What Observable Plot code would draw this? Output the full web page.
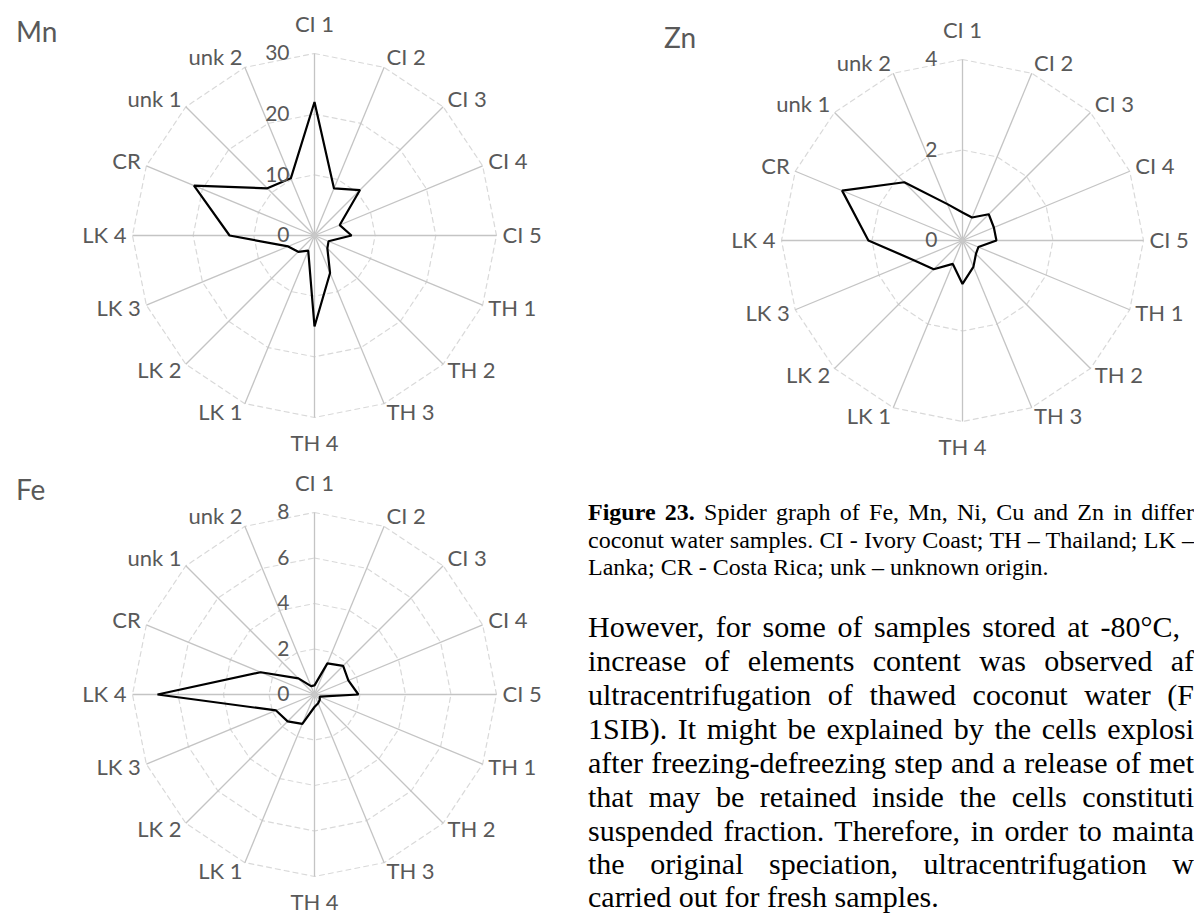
<!DOCTYPE html>
<html><head><meta charset="utf-8">
<script src="https://cdn.jsdelivr.net/npm/d3@7"></script>
<script src="https://cdn.jsdelivr.net/npm/@observablehq/plot@0.6"></script>
<style>
html,body{margin:0;padding:0;background:#fff;overflow:hidden;width:1194px;height:914px;}
#page{position:relative;width:1194px;height:914px;overflow:hidden;background:#fff;}
.chart{position:absolute;}
.title{position:absolute;font-family:Lato,sans-serif;font-size:28px;color:#595959;line-height:28px;white-space:nowrap;}
.cap,.par{position:absolute;left:588px;font-family:"Liberation Serif","Times New Roman",serif;color:#000;white-space:nowrap;text-align:justify;text-align-last:justify;}
.cap{font-size:24px;line-height:27.6px;width:606px;}
.par{font-size:30px;line-height:33.6px;width:606px;}
.left{text-align:left;text-align-last:left;}
</style></head>
<body><div id="page">
<div class="title" style="left:16px;top:17px">Mn</div>
<div class="title" style="left:664px;top:23px">Zn</div>
<div class="title" style="left:16px;top:475px">Fe</div>
<div id="mn" class="chart" style="left:0;top:0"></div>
<div id="zn" class="chart" style="left:590px;top:0"></div>
<div id="fe" class="chart" style="left:0;top:455px"></div>
<div class="cap" style="top:499px"><b>Figure 23.</b> Spider graph of Fe, Mn, Ni, Cu and Zn in differ</div>
<div class="cap" style="top:527px">coconut water samples. CI - Ivory Coast; TH – Thailand; LK –</div>
<div class="cap left" style="top:554px">Lanka; CR - Costa Rica; unk – unknown origin.</div>
<div class="par" style="top:610px;width:592px">However, for some of samples stored at -80°C,</div>
<div class="par" style="top:644px">increase of elements content was observed af</div>
<div class="par" style="top:678px">ultracentrifugation of thawed coconut water (F</div>
<div class="par" style="top:712px">1SIB). It might be explained by the cells explosi</div>
<div class="par" style="top:746px">after freezing-defreezing step and a release of met</div>
<div class="par" style="top:780px">that may be retained inside the cells constituti</div>
<div class="par" style="top:813.5px">suspended fraction. Therefore, in order to mainta</div>
<div class="par" style="top:847px">the original speciation, ultracentrifugation w</div>
<div class="par left" style="top:880px">carried out for fresh samples.</div>
</div>
<script>
const categories = ["CI 1","CI 2","CI 3","CI 4","CI 5","TH 1","TH 2","TH 3","TH 4","LK 1","LK 2","LK 3","LK 4","CR","unk 1","unk 2"];
const mnValues = [22, 8.4, 10.6, 4.5, 6.1, 2.5, 3.0, 6.7, 15, 2.7, 3.8, 4.7, 14, 21.5, 11, 10.2];
const znValues = [0.62, 0.55, 0.82, 0.75, 0.75, 0.38, 0.42, 0.63, 0.96, 0.56, 0.90, 1.15, 2.08, 2.88, 1.82, 0.87];
const feValues = [0.4, 1.48, 1.78, 1.61, 1.93, 0.25, 0.33, 0.42, 0.55, 1.4, 1.67, 1.83, 6.9, 2.56, 1.0, 0.4];
const mnTicks = [0, 10, 20, 30];
const znTicks = [0, 2, 4];
const feTicks = [0, 2, 4, 6, 8];

const LABEL = "#595959";
function radar(el, {values, ticks, width, height, cx, cy, R}) {
  const max = ticks[ticks.length - 1];
  const N = categories.length;
  const ang = categories.map((c, i) => i * 2 * Math.PI / N);
  const pts = values.map((v, i) => ({cat: categories[i], x: v / max * Math.sin(ang[i]), y: v / max * Math.cos(ang[i])}));
  const rings = ticks.filter(t => t > 0).flatMap(t => categories.map((c, i) => ({ring: t, x: t / max * Math.sin(ang[i]), y: t / max * Math.cos(ang[i])})));
  const spokes = categories.map((c, i) => ({cat: c, s: Math.sin(ang[i]), c: Math.cos(ang[i])}));
  const lab = spokes.map(d => ({...d, lx: d.s * (1 + 6 / R), ly: d.c * (1 + 10 / R)}));
  const right = lab.filter(d => d.s > 0.01), left = lab.filter(d => d.s < -0.01);
  const top = lab.filter(d => Math.abs(d.s) <= 0.01 && d.c > 0), bottom = lab.filter(d => Math.abs(d.s) <= 0.01 && d.c < 0);
  const tickData = ticks.map(t => ({t, y: t / max}));
  const chart = Plot.plot({
    width, height, margin: 0,
    x: {domain: [-1, 1], range: [cx - R, cx + R], axis: null},
    y: {domain: [-1, 1], range: [cy + R, cy - R], axis: null},
    style: {fontFamily: "Lato, sans-serif", color: LABEL, background: "transparent"},
    marks: [
      Plot.line(rings, {x: "x", y: "y", z: "ring", curve: "linear-closed", stroke: "#d9d9d9", strokeWidth: 1.2, strokeDasharray: "5,4"}),
      Plot.link(spokes, {x1: 0, y1: 0, x2: "s", y2: "c", stroke: "#c4c4c4", strokeWidth: 1.3}),
      Plot.dot([{x: 0, y: 0}], {x: "x", y: "y", r: 2.5, fill: "#c8c8c8"}),
      Plot.line(pts, {x: "x", y: "y", curve: "linear-closed", stroke: "#000", strokeWidth: 2.2, strokeLinejoin: "miter"}),
      Plot.text(right, {x: "lx", y: "ly", text: "cat", textAnchor: "start", fontSize: 22, fill: LABEL}),
      Plot.text(left, {x: "lx", y: "ly", text: "cat", textAnchor: "end", fontSize: 22, fill: LABEL}),
      Plot.text(top, {x: "s", y: "c", text: "cat", textAnchor: "middle", dy: -29, fontSize: 22, fill: LABEL}),
      Plot.text(bottom, {x: "s", y: "c", text: "cat", textAnchor: "middle", dy: 26, fontSize: 22, fill: LABEL}),
      Plot.text(tickData, {x: 0, y: "y", text: d => String(d.t), textAnchor: "end", dx: -25, fontSize: 21, fill: LABEL})
    ]
  });
  document.getElementById(el).appendChild(chart);
}
radar("mn", {values: mnValues, ticks: mnTicks, width: 600, height: 455, cx: 314, cy: 235, R: 182});
radar("zn", {values: znValues, ticks: znTicks, width: 604, height: 470, cx: 372, cy: 240, R: 181});
radar("fe", {values: feValues, ticks: feTicks, width: 600, height: 459, cx: 314, cy: 239, R: 182});
</script>
</body></html>
